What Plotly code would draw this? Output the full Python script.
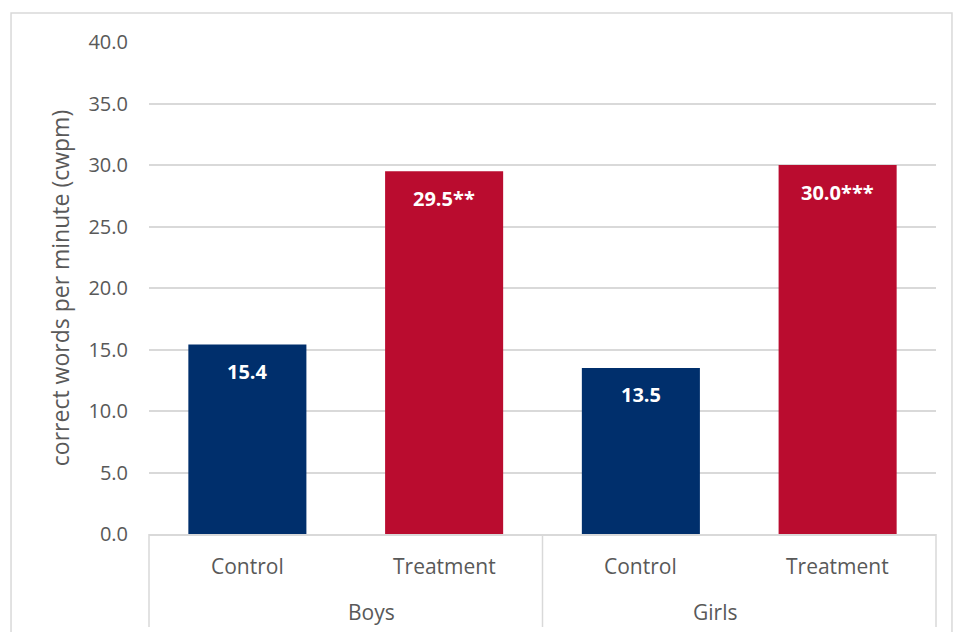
import plotly.graph_objects as go

groups = ["Boys", "Boys", "Girls", "Girls"]
arms = ["Control", "Treatment", "Control", "Treatment"]
values = [15.4, 29.5, 13.5, 30.0]
stars = ["", "**", "", "***"]
colors = ["#002F6C", "#BA0C2F", "#002F6C", "#BA0C2F"]
y_ticks = [0, 5, 10, 15, 20, 25, 30, 35, 40]

FONT = "'Open Sans', sans-serif"
GREY = "#595959"
LINE = "#D9D9D9"

fig = go.Figure()
fig.add_trace(go.Bar(
    x=[groups, arms],
    y=values,
    marker=dict(color=colors, line=dict(width=0)),
    width=0.6,
    hoverinfo="skip",
))

# value labels near the top inside each bar
for g, a, v, s in zip(groups, arms, values, stars):
    fig.add_annotation(
        x=[g, a], y=v, xref="x", yref="y",
        text=f"<b>{v:.1f}{s}</b>",
        showarrow=False, yanchor="middle", yshift=-27,
        font=dict(family=FONT, size=20, color="white"),
    )

# two-level category labels under the axis
for g, a in zip(groups, arms):
    fig.add_annotation(
        x=[g, a], y=0, xref="x", yref="paper",
        text=a, showarrow=False, yanchor="middle", yshift=-32,
        font=dict(family=FONT, size=21, color=GREY),
    )
group_names = list(dict.fromkeys(groups))
for i, g in enumerate(group_names):
    fig.add_annotation(
        x=(i + 0.5) / len(group_names), y=0, xref="paper", yref="paper",
        text=g, showarrow=False, yanchor="middle", yshift=-78,
        font=dict(family=FONT, size=21, color=GREY),
    )

# group dividers below the axis
for i in range(len(group_names) + 1):
    xp = i / len(group_names)
    fig.add_shape(type="line", xref="paper", yref="paper",
                  x0=xp, x1=xp, y0=0, y1=-93 / 492,
                  line=dict(color=LINE, width=1.5))

# chart frame
fig.add_shape(type="rect", xref="paper", yref="paper",
              x0=-0.1753, x1=1.0203, y0=-0.25, y1=1.0589,
              line=dict(color=LINE, width=1.5), fillcolor="rgba(0,0,0,0)",
              layer="below")

fig.update_layout(
    width=953, height=632,
    margin=dict(l=149, r=17, t=42, b=98),
    paper_bgcolor="white", plot_bgcolor="white",
    showlegend=False,
    bargap=0.4,
    font=dict(family=FONT, color=GREY),
    xaxis=dict(
        type="multicategory",
        showline=True, linecolor=LINE, linewidth=1.5,
        showdividers=False, showticklabels=False,
        ticks="", showgrid=False,
    ),
    yaxis=dict(
        range=[0, 40], tickvals=y_ticks,
        ticktext=[f"{t:.1f}" for t in y_ticks],
        showgrid=True, gridcolor=LINE, gridwidth=1.5,
        zeroline=False, showline=False,
        tickfont=dict(family=FONT, size=20, color=GREY),
        ticklabelstandoff=20,
        title=dict(text="correct words per minute (cwpm)",
                   font=dict(family=FONT, size=23, color=GREY), standoff=12),
    ),
)

fig.write_html("out.html")
